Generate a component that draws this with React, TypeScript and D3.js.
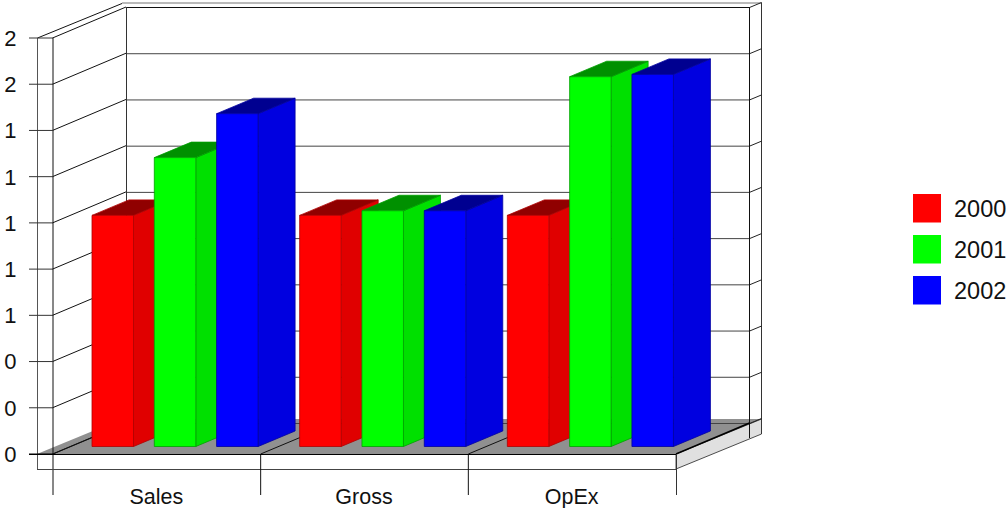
import React from "react";
import * as d3 from "d3";

// Chart content
const categories = ["Sales", "Gross", "OpEx"];
const seriesNames = ["2000", "2001", "2002"];
const values2000 = [1.0, 1.0, 1.0];
const values2001 = [1.25, 1.02, 1.6];
const values2002 = [1.44, 1.02, 1.61];
const tickValues = [0, 0.2, 0.4, 0.6, 0.8, 1.0, 1.2, 1.4, 1.6, 1.8];
const tickLabels = ["0", "0", "0", "1", "1", "1", "1", "1", "2", "2"];
const seriesValues = [values2000, values2001, values2002];

const frontColors = ["#ff0000", "#00ff00", "#0000ff"];
const sideColors = ["#e00000", "#00e000", "#0000e0"];
const topColors = ["#900000", "#009000", "#000090"];
const edgeColors = ["#b00000", "#00a000", "#0000a0"];

const font = "'Liberation Sans', Arial, Helvetica, sans-serif";

// Oblique projection offsets: front plane to back wall, and bar depth
const wallDx = 74;
const wallDy = -31;
const barDx = 37;
const barDy = -15.5;

export default function App() {
  const y = d3.scaleLinear().domain([0, 1.8]).range([454, 38]);
  const xCat = d3.scaleBand<string>().domain(categories).range([53, 676]);
  const barWidth = 41.5;
  const step = 62.3;
  const base = y(0);
  const top = y(1.8);
  const back = (v: number) => y(v) + wallDy;
  const barLift = 7.5;

  const faces = categories.flatMap((c, ci) =>
    seriesNames.map((s, si) => {
      const x0 = (xCat(c) as number) + 39 + si * step;
      const x1 = x0 + barWidth;
      const yb = base - barLift;
      const yt = y(seriesValues[si][ci]) - barLift;
      return { key: c + s, si, x0, x1, yb, yt };
    })
  );

  return (
    <svg
      width={1006}
      height={508}
      style={{ position: "absolute", left: 0, top: 0, background: "#fff" }}
      fontFamily={font}
    >
      {/* outer box edges */}
      <g fill="none" strokeWidth={1}>
        <line x1={37.5} y1={top} x2={122} y2={3.5} stroke="#111" />
        <line x1={122} y1={3} x2={761} y2={3} stroke="#777" />
        <line x1={37.5} y1={top} x2={37.5} y2={469} stroke="#555" />
        <line x1={761.5} y1={2.5} x2={761.5} y2={434} stroke="#333" />
      </g>

      {/* floor slab */}
      <polygon points="37,454 676,454 761,419 122,419" fill="#909090" />
      <polygon points="676,454 761.5,419 761.5,434 676,469" fill="#e0e0e0" stroke="#222" strokeWidth={0.8} />

      {/* back wall and grid */}
      <g fill="none">
        {tickValues.map((v) => (
          <g key={v}>
            <line x1={126} x2={749} y1={back(v) + 0.5} y2={back(v) + 0.5} stroke={v === 1.8 ? "#111" : "#444"} />
            <line x1={52.5} y1={y(v)} x2={126} y2={back(v)} stroke="#111" />
            <line x1={749.5} y1={back(v) + 0.5} x2={761.5} y2={back(v) - 4.5} stroke="#222" />
          </g>
        ))}
        <line x1={126.5} x2={126.5} y1={back(1.8)} y2={back(0)} stroke="#333" />
        <line x1={749.5} x2={749.5} y1={back(1.8)} y2={438} stroke="#111" />
        <line x1={676} y1={454} x2={749.5} y2={423} stroke="#000" strokeWidth={1.4} />
        {xCat.domain().map((c) => {
          const x = xCat(c) as number;
          return <line key={c} x1={x} y1={454} x2={x + wallDx} y2={423} stroke="#111" />;
        })}
      </g>

      {/* bars */}
      {faces.map((f) => (
        <g key={f.key} stroke={edgeColors[f.si]} strokeWidth={0.8} strokeLinejoin="round">
          <polygon
            points={`${f.x1},${f.yb} ${f.x1 + barDx},${f.yb + barDy} ${f.x1 + barDx},${f.yt + barDy} ${f.x1},${f.yt}`}
            fill={sideColors[f.si]}
          />
          <polygon
            points={`${f.x0},${f.yt} ${f.x1},${f.yt} ${f.x1 + barDx},${f.yt + barDy} ${f.x0 + barDx},${f.yt + barDy}`}
            fill={topColors[f.si]}
          />
          <rect x={f.x0} y={f.yt} width={barWidth} height={f.yb - f.yt} fill={frontColors[f.si]} />
        </g>
      ))}

      {/* front plane, axis lines and ticks */}
      <g fill="none">
        <line x1={53} x2={53} y1={top} y2={495} stroke="#111" />
        <line x1={37} x2={676} y1={469.5} y2={469.5} stroke="#444" />
        <line x1={676.5} x2={676.5} y1={454} y2={495} stroke="#333" />
        {categories.slice(1).map((c) => {
          const x = xCat(c) as number;
          return <line key={c} x1={x} x2={x} y1={454} y2={495} stroke="#111" />;
        })}
        {tickValues.map((v) => (
          <line key={v} x1={29} x2={53} y1={y(v)} y2={y(v)} stroke={v === 0 ? "#000" : "#333"} />
        ))}
        <line x1={29} x2={676} y1={454.5} y2={454.5} stroke="#000" />
      </g>

      {/* value labels */}
      <g fontSize={22} fill="#111" textAnchor="end">
        {tickValues.map((v, i) => (
          <text key={v} x={16.5} y={y(v)} dy="0.36em">
            {tickLabels[i]}
          </text>
        ))}
      </g>

      {/* category labels */}
      <g fontSize={21.5} fill="#111" textAnchor="middle">
        {categories.map((c) => (
          <text key={c} x={(xCat(c) as number) + xCat.bandwidth() / 2 - 0.5} y={503.5}>
            {c}
          </text>
        ))}
      </g>

      {/* legend */}
      {seriesNames.map((s, i) => (
        <g key={s}>
          <rect x={913} y={194 + i * 41} width={28} height={28.5} fill={frontColors[i]} />
          <text x={954} y={208.5 + i * 41} dy="0.36em" fontSize={23.5} fill="#111">
            {s}
          </text>
        </g>
      ))}
    </svg>
  );
}
